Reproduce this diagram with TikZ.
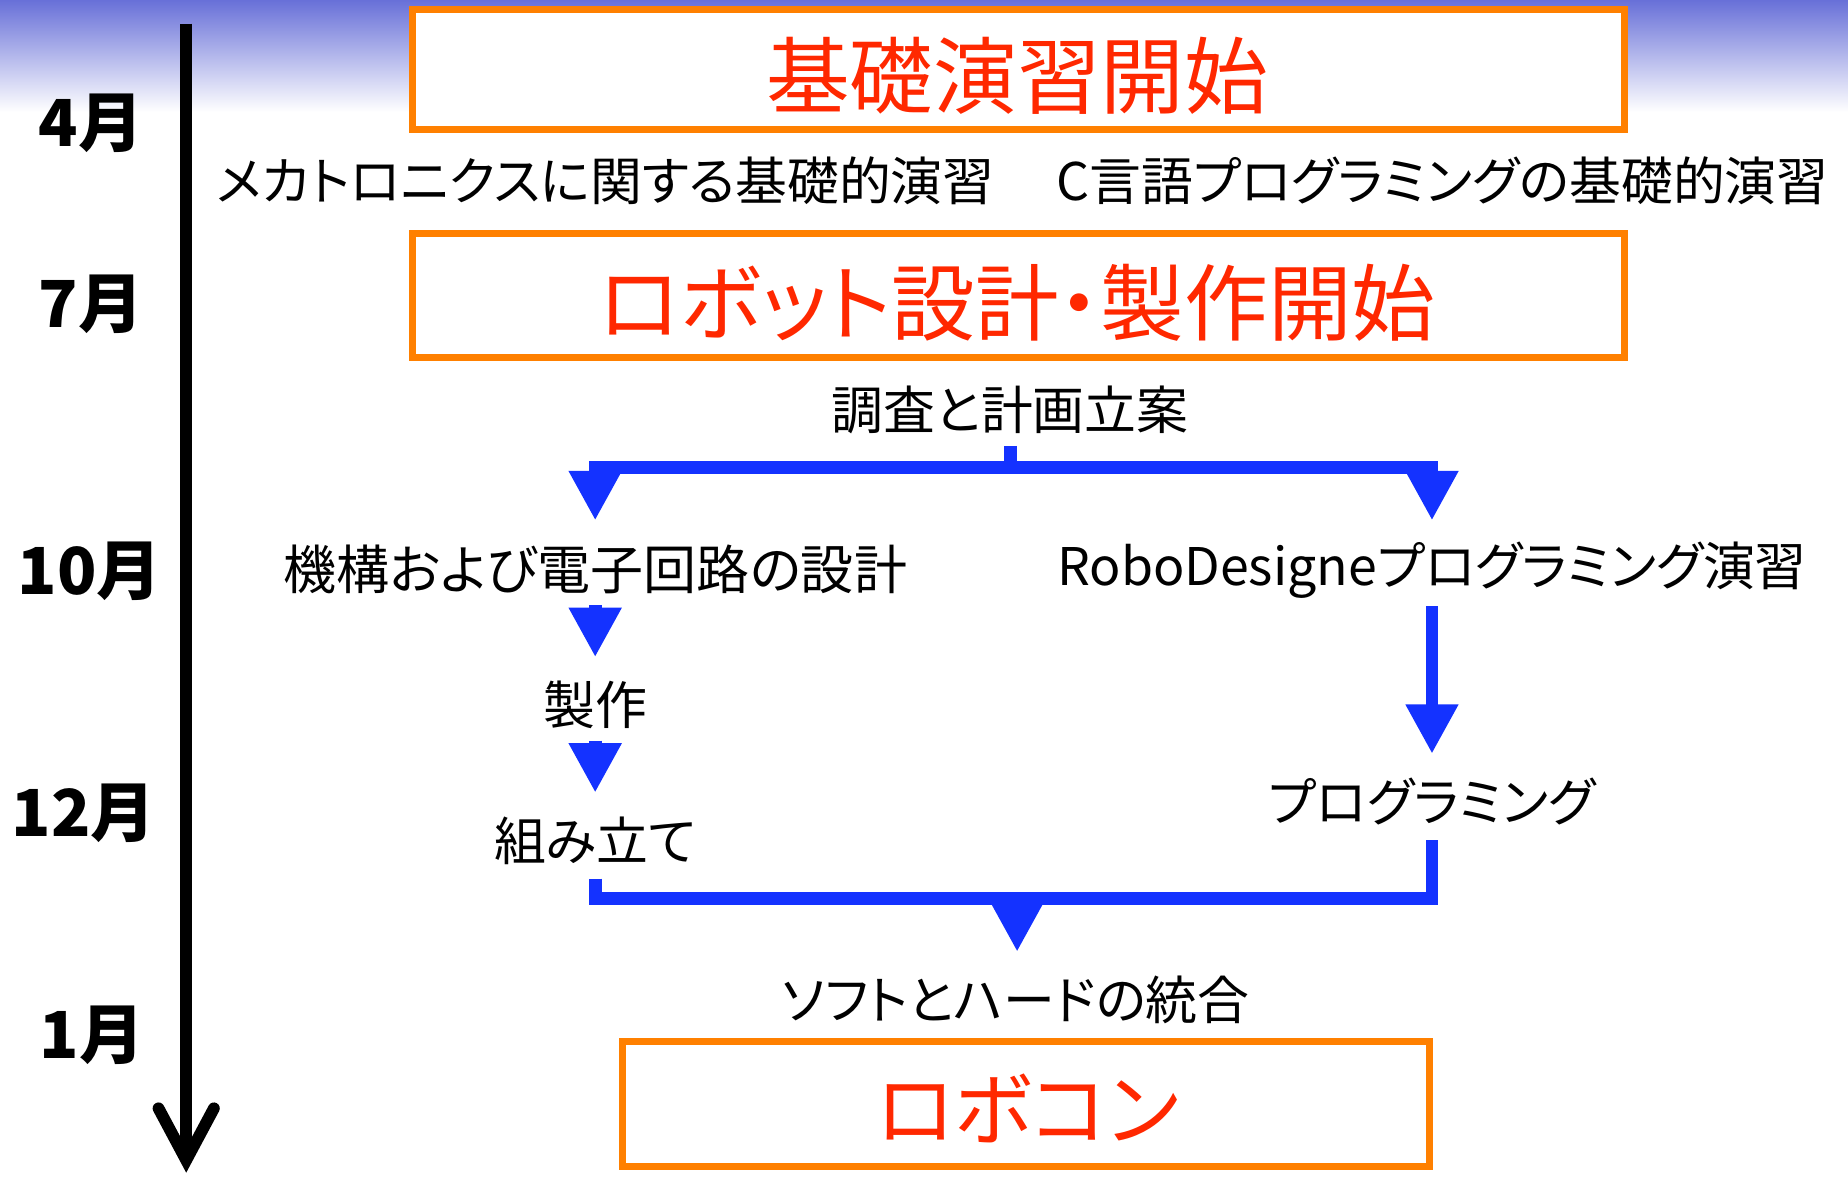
\documentclass[tikz,border=0pt]{standalone}
\usepackage{fontspec}
\newfontfamily\jp[RawFeature=+palt]{Noto Sans CJK JP}
\usetikzlibrary{arrows.meta}
\definecolor{boxorange}{RGB}{255,128,0}
\definecolor{titlered}{RGB}{255,40,0}
\definecolor{flowblue}{RGB}{20,50,255}
\definecolor{topblue}{RGB}{104,112,216}
\tikzset{
  month/.style={font=\jp\bfseries\fontsize{27.5}{31}\selectfont, inner sep=0pt},
  titletext/.style={font=\jp\fontsize{35.5}{40}\selectfont, text=titlered, inner sep=0pt,
    text height=31.2pt, text depth=4.3pt},
  steptext/.style={font=\jp\fontsize{22}{26}\selectfont, inner sep=0pt,
    text height=19.4pt, text depth=2.6pt},
  stagebox/.style={draw=boxorange, line width=3pt, fill=white, inner sep=0pt},
  bline/.style={draw=flowblue, line width=5.5pt},
  barrow/.style={bline, -{Triangle[width=21pt,length=21pt]}},
  tline/.style={line width=5pt, -{Straight Barb[length=22pt,width=23.5pt,line cap=round]}}
}
\begin{document}
\begin{tikzpicture}[x=0.5pt,y=-0.5pt]
\useasboundingbox (0,0) rectangle (1568,998);
\fill[white] (0,0) rectangle (1568,998);
\shade[top color=topblue, bottom color=white] (0,0) rectangle (1568,95);

% timeline
\coordinate (tl0) at (158,20);
\coordinate (tl1) at (158,995);
\draw[tline] (tl0) -- (tl1);

% months
\node[month] (m4)  at (77,105) {4月};
\node[month] (m7)  at (77,258) {7月};
\node[month] (m10) at (76,485) {10月};
\node[month] (m12) at (71,690) {12月};
\node[month] (m1)  at (78,878) {1月};

% stage boxes
\node[stagebox, minimum width=514pt, minimum height=51pt] (box1) at (864,59) {};
\node[titletext] (t1) at (863,64) {基礎演習開始};
\node[stagebox, minimum width=514pt, minimum height=52.5pt] (box2) at (864,250.5) {};
\node[titletext] (t2) at (863,257) {ロボット設計・製作開始};
\node[stagebox, minimum width=342.5pt, minimum height=53pt] (box3) at (870.5,937) {};
\node[titletext, font=\jp\fontsize{34}{38}\selectfont] (t3) at (872,940) {ロボコン};

% step texts
\node[steptext] (mecha) at (514,153) {メカトロニクスに関する基礎的演習};
\node[steptext] (cprog) at (1224,153) {C言語プログラミングの基礎的演習};
\node[steptext] (plan) at (857,348) {調査と計画立案};
\node[steptext, font=\jp\fontsize{22.5}{26}\selectfont] (mech) at (505,483) {機構および電子回路の設計};
\node[steptext] (robo) at (1215,480) {RoboDesigneプログラミング演習};
\node[steptext] (make) at (505,598) {製作};
\node[steptext] (asm) at (505,713) {組み立て};
\node[steptext] (prog) at (1215,680) {プログラミング};
\node[steptext] (sync) at (862,848) {ソフトとハードの統合};

% flow connectors
\coordinate (jt) at (857,397);
\draw[bline, shorten <=4pt] (plan.south) -- (jt);
\draw[barrow, shorten >=9.5pt] (jt) -| (mech.north);
\draw[barrow, shorten >=8pt] (jt) -| (robo.north);
\draw[barrow, shorten <=4pt, shorten >=9pt] (mech.south) -- (make.north);
\draw[barrow, shorten <=4pt, shorten >=9pt] (make.south) -- (asm.north);
\draw[barrow, shorten <=6pt, shorten >=9pt] (robo.south) -- (prog.north);
\coordinate (jb) at (863,762);
\draw[bline, shorten <=5pt, shorten >=5pt] (asm.south) |- (jb) -| (prog.south);
\draw[barrow, shorten >=9pt] (jb) -- (jb |- sync.north);
\end{tikzpicture}
\end{document}
